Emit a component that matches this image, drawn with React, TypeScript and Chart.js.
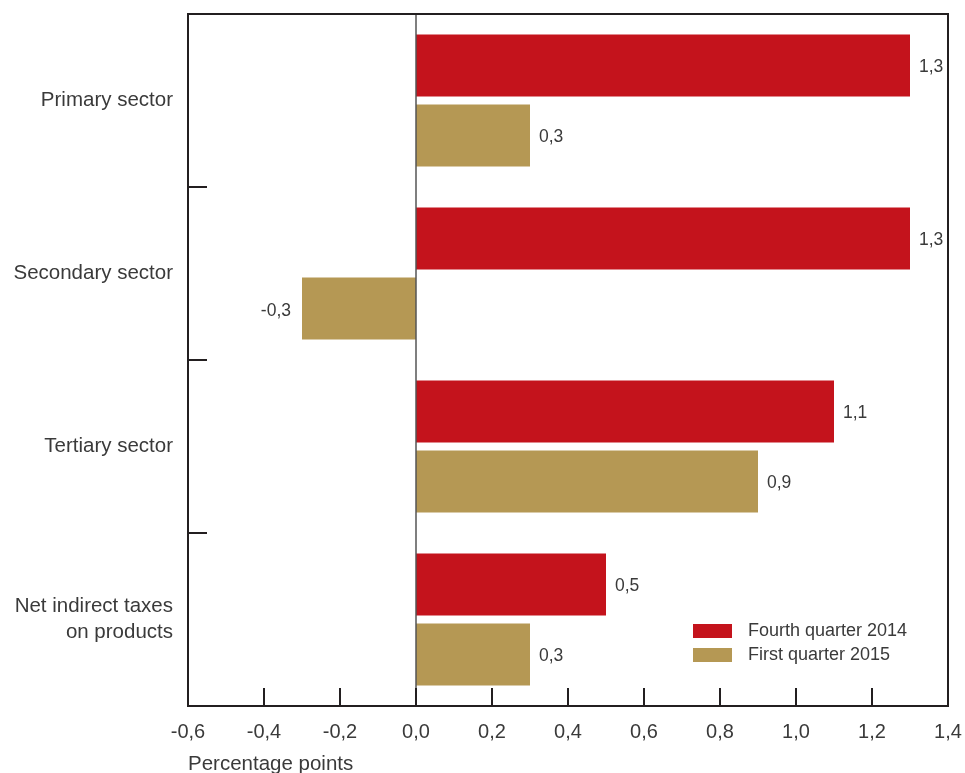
import React, { useEffect, useRef } from "react";
import { Chart, registerables } from "chart.js";

Chart.register(...registerables);

const categories: (string | string[])[] = [
  "Primary sector",
  "Secondary sector",
  "Tertiary sector",
  ["Net indirect taxes", "on products"],
];
const seriesNames = ["Fourth quarter 2014", "First quarter 2015"];
const fourthQuarter2014 = [1.3, 1.3, 1.1, 0.5];
const firstQuarter2015 = [0.3, -0.3, 0.9, 0.3];
const xMin = -0.6;
const xMax = 1.4;
const xStep = 0.2;
const axisTitle = "Percentage points";

const RED = "#c4131c";
const GOLD = "#b59854";
const TEXT = "#3a3a3a";
const FONT = "'Liberation Sans', Arial, sans-serif";

const fmt = (v: number) => v.toFixed(1).replace(".", ",");

const decorPlugin = {
  id: "decor",
  afterDatasetsDraw(chart: any) {
    const { ctx, chartArea: a, scales } = chart;
    const xs = scales.x;
    const ys = scales.y;
    ctx.save();
    // zero line
    const x0 = xs.getPixelForValue(0);
    ctx.strokeStyle = "#555555";
    ctx.lineWidth = 1.5;
    ctx.beginPath();
    ctx.moveTo(x0, a.top);
    ctx.lineTo(x0, a.bottom);
    ctx.stroke();

    // value labels
    ctx.font = `17.5px ${FONT}`;
    ctx.fillStyle = TEXT;
    ctx.textBaseline = "middle";
    chart.data.datasets.forEach((ds: any, di: number) => {
      const meta = chart.getDatasetMeta(di);
      meta.data.forEach((el: any, i: number) => {
        const v = ds.data[i];
        if (v >= 0) {
          ctx.textAlign = "left";
          ctx.fillText(fmt(v), el.x + 9, el.y + 2);
        } else {
          ctx.textAlign = "right";
          ctx.fillText(fmt(v), el.x - 11, el.y + 3);
        }
      });
    });

    // frame
    ctx.strokeStyle = "#231f20";
    ctx.lineWidth = 2;
    ctx.strokeRect(a.left, a.top, a.right - a.left, a.bottom - a.top);

    // x ticks (inside)
    for (let v = xMin + xStep; v < xMax - 1e-9; v += xStep) {
      const px = Math.round(xs.getPixelForValue(v));
      ctx.beginPath();
      ctx.moveTo(px, a.bottom);
      ctx.lineTo(px, a.bottom - 18);
      ctx.stroke();
    }
    // y ticks at category boundaries (inside)
    for (let i = 0; i < categories.length - 1; i++) {
      const py = Math.round((ys.getPixelForValue(i) + ys.getPixelForValue(i + 1)) / 2);
      ctx.beginPath();
      ctx.moveTo(a.left, py);
      ctx.lineTo(a.left + 19, py);
      ctx.stroke();
    }

    // axis title
    ctx.font = `20.5px ${FONT}`;
    ctx.fillStyle = TEXT;
    ctx.textAlign = "left";
    ctx.textBaseline = "middle";
    ctx.fillText(axisTitle, a.left, 764);

    // legend
    const colors = [RED, GOLD];
    ctx.font = `18px ${FONT}`;
    seriesNames.forEach((name, i) => {
      const y = 624 + i * 24;
      ctx.fillStyle = colors[i];
      ctx.fillRect(693, y, 39, 14);
      ctx.fillStyle = TEXT;
      ctx.textAlign = "left";
      ctx.fillText(name, 748, y + 7);
    });
    ctx.restore();
  },
};

const zeroPad = (s: any) => {
  s.paddingTop = 0;
  s.paddingBottom = 0;
  s.paddingLeft = 0;
  s.paddingRight = 0;
};

export default function App() {
  const ref = useRef<HTMLCanvasElement>(null);
  useEffect(() => {
    if (!ref.current) return;
    const chart = new Chart(ref.current, {
      type: "bar",
      data: {
        labels: categories,
        datasets: [
          {
            label: seriesNames[0],
            data: fourthQuarter2014,
            backgroundColor: RED,
            categoryPercentage: 0.81,
            barPercentage: 0.886,
          },
          {
            label: seriesNames[1],
            data: firstQuarter2015,
            backgroundColor: GOLD,
            categoryPercentage: 0.81,
            barPercentage: 0.886,
          },
        ],
      },
      options: {
        indexAxis: "y",
        animation: false,
        responsive: false,
        maintainAspectRatio: false,
        layout: { padding: { top: 14, right: 17, left: 0, bottom: 0 } },
        plugins: {
          legend: { display: false },
          tooltip: { enabled: false },
        },
        scales: {
          x: {
            min: xMin,
            max: xMax,
            grid: { display: false, drawTicks: false },
            border: { display: false },
            ticks: {
              stepSize: xStep,
              padding: 14,
              color: TEXT,
              font: { size: 20, family: FONT },
              callback: (v: any) => fmt(Number(v)),
              maxRotation: 0,
            },
            afterFit: (s: any) => {
              s.height = 67;
              zeroPad(s);
            },
          },
          y: {
            grid: { display: false, drawTicks: false },
            border: { display: false },
            ticks: {
              padding: 15,
              color: TEXT,
              font: { size: 20.5, family: FONT, lineHeight: 1.3 },
            },
            afterFit: (s: any) => {
              s.width = 188;
              zeroPad(s);
            },
          },
        },
      },
      plugins: [decorPlugin],
    });
    return () => chart.destroy();
  }, []);
  return (
    <div style={{ position: "fixed", left: 0, top: 0, width: 965, height: 773, background: "#fff" }}>
      <canvas ref={ref} width={965} height={773} style={{ display: "block" }} />
    </div>
  );
}
